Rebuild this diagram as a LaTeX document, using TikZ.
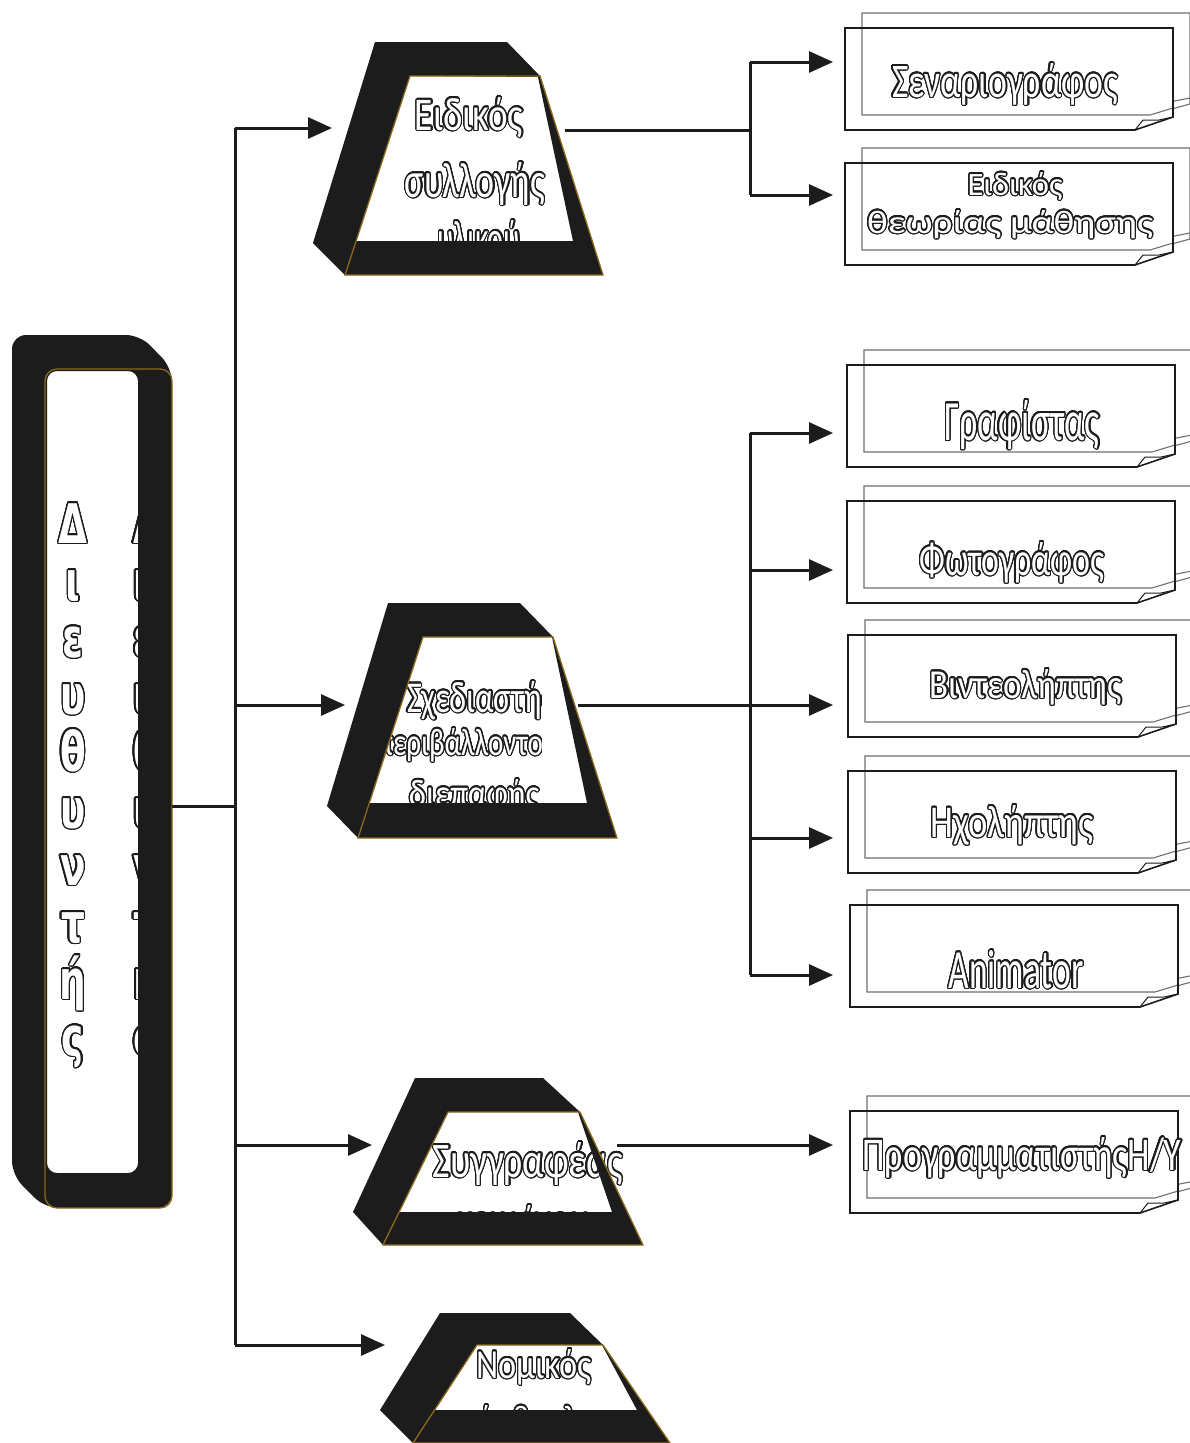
\documentclass[tikz,border=0pt]{standalone}
\usepackage{fontspec}
\setmainfont{Carlito}
\newfontfamily\dirfont{DejaVu Sans}[BoldFont={DejaVu Sans Bold}]
\usepackage{graphicx}
\usepackage[copies]{contour}
\contourlength{1.3pt}
\contournumber{24}
\usetikzlibrary{arrows.meta}

\definecolor{ink}{HTML}{1C1C1C}
\definecolor{rim}{HTML}{8C6A1C}
\definecolor{paper}{HTML}{FFFFFF}
\definecolor{ghost}{HTML}{707070}

% outlined text squeezed to a given width and height above the baseline
\newcommand\otx[3]{\textcolor{white}{\contour{ink}{\resizebox{#1}{#2}{#3}}}}
% one outlined letter of the vertical title
\newcommand\dletter[1]{\textcolor{white}{\contour{ink}{\scalebox{0.72}[1.05]{\dirfont\bfseries\fontsize{52}{52}\selectfont #1}}}}

% a note sheet: ghost sheet behind, front sheet with a curled corner
\newcommand\notesheet[2]{%
  \draw[backsheet] (#1+17,#2-15) -- (#1+345,#2-15) -- (#1+345,#2+76) -- (#1+305,#2+87) -- (#1+17,#2+87) -- cycle;
  \draw[backsheet] (#1+305,#2+87) -- (#1+314,#2+76) -- (#1+345,#2+70);
  \fill[paper] (#1,#2) -- (#1+328,#2) -- (#1+328,#2+89) -- (#1+290,#2+102) -- (#1,#2+102) -- cycle;
  \draw[backsheet] (#1+17,#2) -- (#1+17,#2+87) -- (#1+305,#2+87) -- (#1+328,#2+80);
  \draw[front] (#1,#2) -- (#1+328,#2) -- (#1+328,#2+89) -- (#1+290,#2+102) -- (#1,#2+102) -- cycle;
  \draw[front, line width=1pt] (#1+290,#2+102) -- (#1+298,#2+92) -- (#1+314,#2+92) -- (#1+328,#2+89);
}

\begin{document}
\begin{tikzpicture}[x=1pt,y=-1pt,
  lbl/.style={inner sep=0pt, outer sep=0pt, anchor=base},
  frame/.style={fill=ink, even odd rule},
  rimline/.style={draw=rim, line width=1.3pt},
  conn/.style={draw=ink, line width=3pt},
  arr/.style={conn, -{Triangle[length=24pt,width=21pt]}},
  front/.style={draw=ink, line width=1.6pt},
  backsheet/.style={draw=ghost, line width=1.1pt}]

\fill[paper] (0,0) rectangle (1190,1443);
\useasboundingbox (0,0) rectangle (1190,1443);

% ---------- vertical title box ----------
\foreach \ch [count=\i from 0] in {Δ,ι,ε,υ,θ,υ,ν,τ,ή,ς} {
  \node[lbl] (dl\i) at (73,543+57*\i) {\dletter{\ch}};
  \node[lbl, anchor=base west] (dr\i) at (133,543+57*\i) {\dletter{\ch}};
}
\fill[frame, rounded corners=14pt]
  (12,335) -- (140,335) -- (172,368) -- (172,1208) -- (45,1208) -- (12,1175) -- cycle
  [rounded corners=10pt] (47,371) rectangle (138,1173);
\draw[rimline, rounded corners=12pt] (45,369) rectangle (172,1208);

% ---------- trapezoid 1 ----------
\node[lbl] (a1) at (469,130) {\otx{108pt}{33pt}{Ειδικός}};
\node[lbl] (a2) at (475,197) {\otx{140pt}{35pt}{συλλογής}};
\node[lbl] (a3) at (479,255) {\otx{82pt}{35pt}{υλικού}};
\fill[frame] (375,42) -- (507,42) -- (540,76) -- (603,275) -- (345,275) -- (313,243) -- cycle
  (410,76) -- (538,77) -- (573,241) -- (356,241) -- cycle;
\draw[rimline] (410,76) -- (540,76) -- (603,275) -- (345,275) -- cycle;

% ---------- trapezoid 2 ----------
\begin{scope}
  \clip (383,640) rectangle (541,836);
  \node[lbl] (b1) at (481,712) {\otx{148pt}{31pt}{Σχεδιαστής}};
  \node[lbl] (b2) at (466,755) {\otx{178pt}{27pt}{περιβάλλοντος}};
  \node[lbl] (b3) at (474,806) {\otx{130pt}{27pt}{διεπαφής}};
\end{scope}
\fill[frame] (388,603) -- (520,603) -- (553,637) -- (617,838) -- (358,838) -- (327,806) -- cycle
  (423,637) -- (552,637) -- (587,803) -- (369,803) -- cycle;
\draw[rimline] (423,637) -- (553,637) -- (617,838) -- (358,838) -- cycle;

% ---------- trapezoid 3 ----------
\node[lbl] (c1) at (528,1177) {\otx{190pt}{35pt}{Συγγραφέας}};
\node[lbl] (c2) at (523,1232) {\otx{133pt}{27pt}{κειμένου}};
\fill[frame] (415,1078) -- (543,1078) -- (580,1112) -- (643,1245) -- (383,1245) -- (353,1212) -- cycle
  (448,1112) -- (578,1112) -- (612,1212) -- (399,1212) -- cycle;
\draw[rimline] (448,1112) -- (580,1112) -- (643,1245) -- (383,1245) -- cycle;

% ---------- trapezoid 4 ----------
\node[lbl] (e1) at (534,1378) {\otx{115pt}{29pt}{Νομικός}};
\node[lbl] (e2) at (534,1430) {\otx{150pt}{25pt}{σύμβουλος}};
\fill[frame] (440,1313) -- (570,1313) -- (603,1345) -- (670,1443) -- (413,1443) -- (380,1410) -- cycle
  (477,1345) -- (602,1345) -- (637,1410) -- (435,1410) -- cycle;
\draw[rimline] (477,1345) -- (603,1345) -- (670,1443) -- (413,1443) -- cycle;

% ---------- note sheets ----------
\notesheet{845}{28}
\notesheet{845}{163}
\notesheet{847}{365}
\notesheet{847}{501}
\notesheet{848}{635}
\notesheet{848}{771}
\notesheet{850}{905}
\notesheet{850}{1111}

\node[lbl] (n1) at (1005,97) {\otx{226pt}{34pt}{Σεναριογράφος}};
\node[lbl] (n2a) at (1015,195) {\otx{95pt}{23pt}{Ειδικός}};
\node[lbl] (n2b) at (1010,233) {\otx{286pt}{23pt}{θεωρίας μάθησης}};
\node[lbl] (n3) at (1022,440) {\otx{155pt}{40pt}{Γραφίστας}};
\node[lbl] (n4) at (1012,575) {\otx{185pt}{33pt}{Φωτογράφος}};
\node[lbl] (n5) at (1026,698) {\otx{192pt}{29pt}{Βιντεολήπτης}};
\node[lbl] (n6) at (1012,837) {\otx{163pt}{32pt}{Ηχολήπτης}};
\node[lbl] (n7) at (1016,988) {\otx{135pt}{38pt}{Animator}};
\node[lbl] (n8) at (1022,1170) {\otx{319pt}{33pt}{ΠρογραμματιστήςΗ/Υ}};

% ---------- connector points ----------
\coordinate (dirR) at (172,806);
\coordinate (busMid) at (235,806);
\coordinate (busTop) at (235,128);
\coordinate (busB) at (235,705);
\coordinate (busC) at (235,1145);
\coordinate (busBot) at (235,1345);
\coordinate (tr1in) at (332,128);
\coordinate (tr2in) at (345,705);
\coordinate (tr3in) at (372,1145);
\coordinate (tr4in) at (385,1345);
\coordinate (tr1out) at (565,130);
\coordinate (tr2out) at (578,705);
\coordinate (tr3out) at (617,1145);
\coordinate (s1mid) at (750,130);
\coordinate (s1top) at (750,62);
\coordinate (s1bot) at (750,195);
\coordinate (s2top) at (750,433);
\coordinate (s2b) at (750,570);
\coordinate (s2d) at (750,838);
\coordinate (s2bot) at (750,975);
\coordinate (n1in) at (833,62);
\coordinate (n2in) at (833,195);
\coordinate (n3in) at (833,433);
\coordinate (n4in) at (833,570);
\coordinate (n5in) at (833,705);
\coordinate (n6in) at (833,838);
\coordinate (n7in) at (833,975);
\coordinate (n8in) at (833,1145);

% ---------- connectors ----------
\draw[conn] (dirR) -- (busMid);
\draw[conn] (busTop) -- (busBot);
\draw[arr] (busTop) -- (tr1in);
\draw[arr] (busB) -- (tr2in);
\draw[arr] (busC) -- (tr3in);
\draw[arr] (busBot) -- (tr4in);

\draw[conn] (tr1out) -- (s1mid);
\draw[conn] (s1top) -- (s1bot);
\draw[arr] (s1top) -- (n1in);
\draw[arr] (s1bot) -- (n2in);

\draw[conn] (s2top) -- (s2bot);
\draw[arr] (s2top) -- (n3in);
\draw[arr] (s2b) -- (n4in);
\draw[arr] (tr2out) -- (n5in);
\draw[arr] (s2d) -- (n6in);
\draw[arr] (s2bot) -- (n7in);

\draw[arr] (tr3out) -- (n8in);
\end{tikzpicture}
\end{document}
